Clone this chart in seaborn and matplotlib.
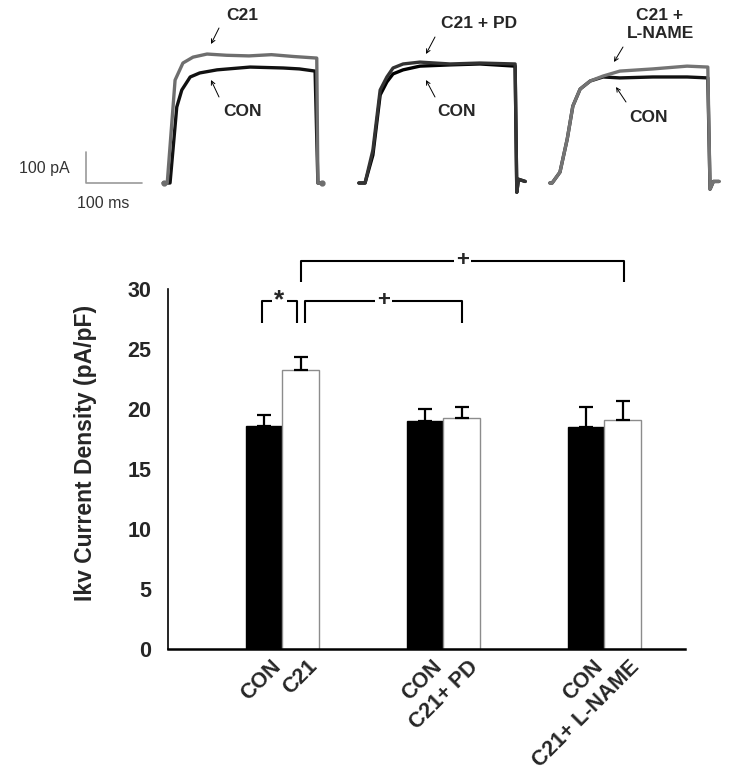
import numpy as np
import pandas as pd
import seaborn as sns
import matplotlib
matplotlib.use('Agg')
import matplotlib.pyplot as plt
from matplotlib.transforms import ScaledTranslation

# bar chart values (pA/pF)
groups = ['C21', 'C21 + PD', 'C21 + L-NAME']
con_mean = [18.6, 19.0, 18.5]
con_sem = [0.9, 1.0, 1.7]
trt_mean = [23.3, 19.3, 19.1]
trt_sem = [1.1, 0.9, 1.6]
tick_labels = ['CON', 'C21', 'CON', 'C21+ PD', 'CON', 'C21+ L-NAME']

# example current traces, key points (ms, pA)
t1_c21 = [-3, 4, 18, 32, 50, 75, 110, 150, 190, 230, 271, 273, 280]
i1_c21 = [0, 0, 332, 387, 406, 416, 412, 410, 414, 408, 403, 0, 0]
t1_con = [-3, 9, 21, 30, 45, 62, 93, 152, 211, 240, 268, 273, 280]
i1_con = [0, 0, 245, 300, 342, 355, 365, 374, 371, 368, 361, 0, 0]

t2_c21 = [-2, 9, 23, 36, 48, 59, 77, 107, 161, 214, 277, 280, 283, 295]
i2_c21 = [0, 0, 106, 300, 342, 371, 384, 390, 384, 387, 384, -30, 12, 5]
t2_con = [-2, 9, 23, 36, 48, 59, 77, 107, 161, 214, 277, 280, 283, 295]
i2_con = [0, 0, 90, 284, 326, 352, 365, 377, 381, 384, 377, -30, 12, 5]

t3_c21 = [-2, 2, 16, 29, 39, 52, 70, 93, 123, 182, 243, 280, 284, 290, 300]
i3_c21 = [0, 0, 35, 142, 248, 303, 329, 345, 361, 368, 377, 374, -20, 5, 5]
t3_con = [-2, 2, 16, 29, 39, 52, 70, 93, 123, 182, 243, 280, 284, 290, 300]
i3_con = [0, 0, 35, 142, 248, 303, 329, 342, 339, 342, 342, 339, -20, 5, 5]

df = pd.DataFrame({
    'group': groups * 2,
    'kind': ['CON'] * 3 + ['TRT'] * 3,
    'value': con_mean + trt_mean,
})

sns.set_style('white')
plt.rcParams['font.family'] = ['Liberation Sans', 'DejaVu Sans']

W, H = 729, 777
fig = plt.figure(figsize=(W / 100, H / 100), dpi=100)

# ---------- bar chart ----------
ax = fig.add_axes([168 / W, 1 - 649.3 / H, (685 - 168) / W, 360 / H])
sns.barplot(data=df, x='group', y='value', hue='kind', hue_order=['CON', 'TRT'],
            palette={'CON': 'black', 'TRT': 'white'}, width=0.454, gap=0,
            errorbar=None, legend=False, ax=ax)
for bar in ax.containers[0]:
    bar.set_edgecolor('black')
for bar in ax.containers[1]:
    bar.set_edgecolor('#8c8c8c')
    bar.set_linewidth(1.0)

centers = []
for ci, (means, sems) in enumerate([(con_mean, con_sem), (trt_mean, trt_sem)]):
    xs = [b.get_x() + b.get_width() / 2 for b in ax.containers[ci]]
    centers.append(xs)
    ax.errorbar(xs, means, yerr=[np.zeros(3), sems], fmt='none', ecolor='black',
                elinewidth=1.6, capsize=4.7, capthick=1.6)

ax.set_xlim(-0.71, 2.5)
ax.set_ylim(0, 30)
ax.set_yticks(range(0, 31, 5))
ax.tick_params(axis='y', direction='out', length=4, width=1, pad=8, labelsize=15.5)
for lab in ax.get_yticklabels():
    lab.set_fontweight('bold')

xt = [c for pair in zip(centers[0], centers[1]) for c in pair]
ax.set_xticks(xt)
ax.set_xticklabels(tick_labels, rotation=45, ha='right', va='top',
                   rotation_mode='anchor', fontsize=15.5, fontweight='bold')
ax.tick_params(axis='x', length=0, pad=5)
shift = ScaledTranslation(6 / 100, 0, fig.dpi_scale_trans)
for lab in ax.get_xticklabels():
    lab.set_transform(lab.get_transform() + shift)
ax.set_xlabel('')
ax.set_ylabel('Ikv Current Density (pA/pF)', fontsize=16.5, fontweight='bold')
ax.yaxis.set_label_coords(-0.137, 0.545)

sns.despine(ax=ax)
ax.spines['left'].set_linewidth(1.2)
ax.spines['bottom'].set_linewidth(1.8)
ax.spines['left'].set_color('black')
ax.spines['bottom'].set_color('black')

# significance brackets
def bracket(x0, x1, y0, y1, sym, size):
    ax.plot([x0, x0, x1, x1], [y0, y1, y1, y0], color='black', lw=1.5,
            clip_on=False, solid_capstyle='butt')
    ax.text((x0 + x1) / 2, y1, sym, ha='center', va='center', fontsize=size,
            fontweight='bold', clip_on=False,
            bbox=dict(facecolor='white', edgecolor='none', pad=1.5))

bracket(centers[0][0] - 0.015, centers[1][0] - 0.02, 27.2, 29.05, '*', 19)
bracket(centers[1][0] + 0.025, centers[1][1] + 0.005, 27.2, 29.05, '+', 16)
bracket(centers[1][0] + 0.0, centers[1][2] + 0.005, 30.6, 32.4, '+', 16)

# ---------- example traces ----------
top = fig.add_axes([0, 1 - 220 / H, 1, 220 / H])
ms_px, pa_px = 56 / 100, 31 / 100


def px(x, y):
    return (x - 86) / ms_px, (183 - y) / pa_px


top.set_xlim(px(0, 0)[0], px(W, 0)[0])
top.set_ylim(px(0, 220)[1], px(0, 0)[1])
top.axis('off')

panel_start = [px(165, 0)[0], px(360, 0)[0], px(551, 0)[0]]
traces = [
    (t1_c21, i1_c21, '#6e6e6e', t1_con, i1_con, '#111111'),
    (t2_c21, i2_c21, '#333333', t2_con, i2_con, '#000000'),
    (t3_c21, i3_c21, '#747474', t3_con, i3_con, '#111111'),
]
for x0, (ta, ia, ca, tb, ib, cb) in zip(panel_start, traces):
    top.plot(np.array(tb) + x0, ib, color=cb, lw=2.4)
    top.plot(np.array(ta) + x0, ia, color=ca, lw=2.4)
top.plot([panel_start[0] - 2, panel_start[0] + 281], [0, 0], 'o', color='#6e6e6e', ms=3.5)

# scale bar
top.plot([0, 0, 100], [100, 0, 0], color='#9a9a9a', lw=1.2)
top.text(*px(70, 168), '100 pA', ha='right', va='center', fontsize=11.5, color='#333333')
top.text(*px(77, 203), '100 ms', ha='left', va='center', fontsize=11.5, color='#333333')

# trace labels with arrows
labels = [
    ('C21', (242, 15), (219, 28), (211, 44)),
    ('CON', (242, 112), (219, 97), (211, 80)),
    ('C21 + PD', (479, 23), (435, 37), (426, 54)),
    ('CON', (456, 112), (435, 97), (426, 80)),
    ('C21 +\nL-NAME', (660, 25), (623, 47), (614, 62)),
    ('CON', (649, 118), (626, 102), (616, 87)),
]
for txt, tpos, a0, a1 in labels:
    top.text(*px(*tpos), txt, ha='center', va='center', fontsize=12.5,
             fontweight='bold', linespacing=1.25)
    top.annotate('', xy=px(*a1), xytext=px(*a0),
                 arrowprops=dict(arrowstyle='->', lw=0.7, color='black',
                                 shrinkA=0, shrinkB=0, mutation_scale=7))

fig.savefig('out.png', dpi=100)
